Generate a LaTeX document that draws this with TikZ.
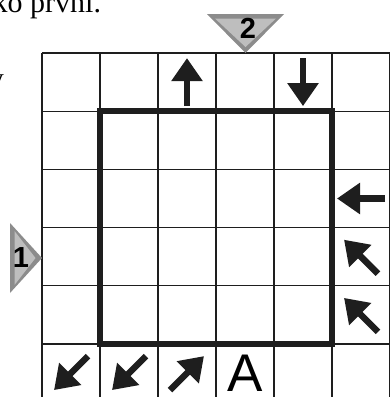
\documentclass[tikz,border=0pt]{standalone}
\usepackage{fontspec}
\usepackage{tikz}
\setmainfont{Liberation Serif}
\newfontfamily\puzzlefont{Liberation Sans}
\usetikzlibrary{arrows.meta, calc}
\definecolor{hintgray}{HTML}{8C8C8C}
\definecolor{hintlight}{HTML}{BEBEBE}
\definecolor{gridink}{HTML}{1E1E1E}

\begin{document}
\begin{tikzpicture}[x=1pt, y=-1pt,
  gridline/.style={draw=gridink, line width=1.3pt},
  loopline/.style={draw=gridink, line width=6pt},
  arw/.style={draw=gridink, line width=6.5pt, -{Triangle[length=23pt, width=30pt]}},
  hintout/.style={fill=hintgray},
  hintin/.style={fill=hintlight},
  hintnum/.style={inner sep=0pt, font=\puzzlefont\bfseries\fontsize{29}{29}\selectfont},
  cellchar/.style={inner sep=0pt, font=\puzzlefont\fontsize{53}{53}\selectfont},
  textfrag/.style={inner sep=0pt, font=\fontsize{30}{30}\selectfont}
]
\useasboundingbox (0,0) rectangle (390,397);

% text cut off by the page
\node[textfrag, anchor=base west] (topline) at (-7.5,12.7) {ko první.};
\node[textfrag, anchor=base east] (leftline) at (4,88.4) {y};

% grid
\foreach \k in {0,...,6} {
  \draw[gridline] ({42+58*\k},53) -- ({42+58*\k},402);
  \draw[gridline] (42,{53+58.2*\k}) -- (390,{53+58.2*\k});
}
\foreach \c in {1,...,6}
  \foreach \r in {1,...,6}
    \coordinate (c\c\r) at ({13+58*\c},{23.9+58.2*\r});

% the loop
\draw[loopline] (100,111.2) rectangle (332,344);

% arrows (angles in the flipped frame)
\foreach \c/\r/\a in {3/1/270, 5/1/90, 6/3/180, 6/4/225, 6/5/225, 1/6/135, 2/6/135, 3/6/315}
  \draw[arw] ($(c\c\r)+(\a+180:24)$) -- ($(c\c\r)+(\a:24)$);

\node[cellchar] (letterA) at (c46) {A};

% hints
\fill[hintout] (207,14) -- (284,14) -- (245.5,53) -- cycle;
\fill[hintin] (215,18.5) -- (276,18.5) -- (245.5,47) -- cycle;
\node[hintnum] (hinttwo) at (248,28) {2};

\fill[hintout] (10,223) -- (10,293) -- (42,258) -- cycle;
\fill[hintin] (14.5,231) -- (14.5,285) -- (35.5,258) -- cycle;
\node[hintnum] (hintone) at (21,258) {1};
\end{tikzpicture}
\end{document}
